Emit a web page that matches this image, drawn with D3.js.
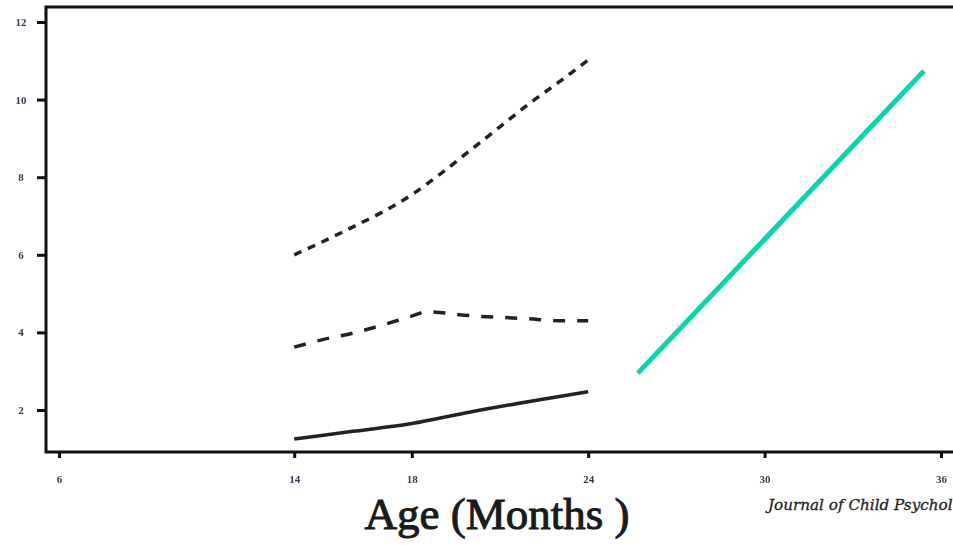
<!DOCTYPE html>
<html>
<head>
<meta charset="utf-8">
<script src="https://cdn.jsdelivr.net/npm/d3@7"></script>
<style>
  body { margin: 0; background: #fff; }
  svg { display: block; }
</style>
</head>
<body>
<svg id="chart" width="953" height="545"></svg>
<script>
// values
const xTicks = [6, 14, 18, 24, 30, 36];
const yTicks = [2, 4, 6, 8, 10, 12];

const upperAge = [14, 15, 16, 17, 18, 19, 20, 21, 22, 23, 24];
const upperVal = [6.0, 6.35, 6.72, 7.1, 7.55, 8.1, 8.7, 9.3, 9.9, 10.45, 11.02];

const middleAge = [14, 15, 16, 17, 18, 18.5, 20, 22, 23, 24];
const middleVal = [3.62, 3.82, 3.98, 4.19, 4.42, 4.53, 4.43, 4.35, 4.3, 4.3];

const lowerAge = [14, 16, 18, 20, 22, 24];
const lowerVal = [1.25, 1.45, 1.65, 1.95, 2.22, 2.47];

// the green stroke drawn over the figure
const markAge = [25.69, 35.42];
const markVal = [2.95, 10.74];

const svg = d3.select("#chart");
svg.append("rect").attr("width", 953).attr("height", 545).attr("fill", "#fff");

// the scan is soft, blur the small labels a touch
svg.append("defs").append("filter").attr("id", "soft")
  .append("feGaussianBlur").attr("stdDeviation", 0.45);

const x = d3.scaleLinear().domain([6, 36]).range([59, 941]);
const y = d3.scaleLinear().domain([2, 12]).range([410, 22]);

const frame = { left: 46, top: 7, right: 975, bottom: 452 };

const zip = (a, b) => a.map((d, i) => [d, b[i]]);
const line = d3.line().x(d => x(d[0])).y(d => y(d[1])).curve(d3.curveMonotoneX);

// frame
svg.append("rect")
  .attr("x", frame.left).attr("y", frame.top)
  .attr("width", frame.right - frame.left).attr("height", frame.bottom - frame.top)
  .attr("fill", "none").attr("stroke", "#111").attr("stroke-width", 3);

// y axis
const yAxis = svg.append("g")
  .attr("transform", `translate(${frame.left},0)`)
  .call(d3.axisLeft(y).tickValues(yTicks).tickSize(9).tickPadding(6));
yAxis.select(".domain").remove();
yAxis.selectAll(".tick text").attr("text-anchor", "middle").attr("x", 21 - frame.left);

// x axis
const xAxis = svg.append("g")
  .attr("transform", `translate(0,${frame.bottom})`)
  .call(d3.axisBottom(x).tickValues(xTicks).tickSize(6).tickPadding(17));
xAxis.select(".domain").remove();

svg.selectAll(".tick line").attr("stroke", "#111").attr("stroke-width", 3);
svg.selectAll(".tick text")
  .attr("fill", "#3a3456")
  .attr("filter", "url(#soft)")
  .style("font-family", "Liberation Serif")
  .style("font-weight", "bold")
  .style("font-size", "11px");

// series
svg.append("path").datum(zip(upperAge, upperVal))
  .attr("d", line).attr("fill", "none")
  .attr("stroke", "#222").attr("stroke-width", 3.5)
  .attr("stroke-dasharray", "8,7");

svg.append("path").datum(zip(middleAge, middleVal))
  .attr("d", line).attr("fill", "none")
  .attr("stroke", "#222").attr("stroke-width", 3.5)
  .attr("stroke-dasharray", "12,12");

svg.append("path").datum(zip(lowerAge, lowerVal))
  .attr("d", line).attr("fill", "none")
  .attr("stroke", "#222").attr("stroke-width", 3.5);

svg.append("path").datum(zip(markAge, markVal))
  .attr("d", d3.line().x(d => x(d[0])).y(d => y(d[1])))
  .attr("fill", "none")
  .attr("stroke", "#0cd4a8").attr("stroke-width", 5);

// titles
svg.append("text")
  .attr("x", 497).attr("y", 529)
  .attr("text-anchor", "middle")
  .style("font-family", "Liberation Serif")
  .style("font-size", "45px")
  .attr("fill", "#1a1a1a")
  .attr("stroke", "#1a1a1a").attr("stroke-width", 1)
  .text("Age (Months )");

svg.append("text")
  .attr("x", 768).attr("y", 510)
  .style("font-family", "DejaVu Serif")
  .style("font-style", "italic")
  .style("font-size", "15.2px")
  .attr("fill", "#222")
  .attr("stroke", "#222").attr("stroke-width", 0.3)
  .text("Journal of Child Psychol");
</script>
</body>
</html>
